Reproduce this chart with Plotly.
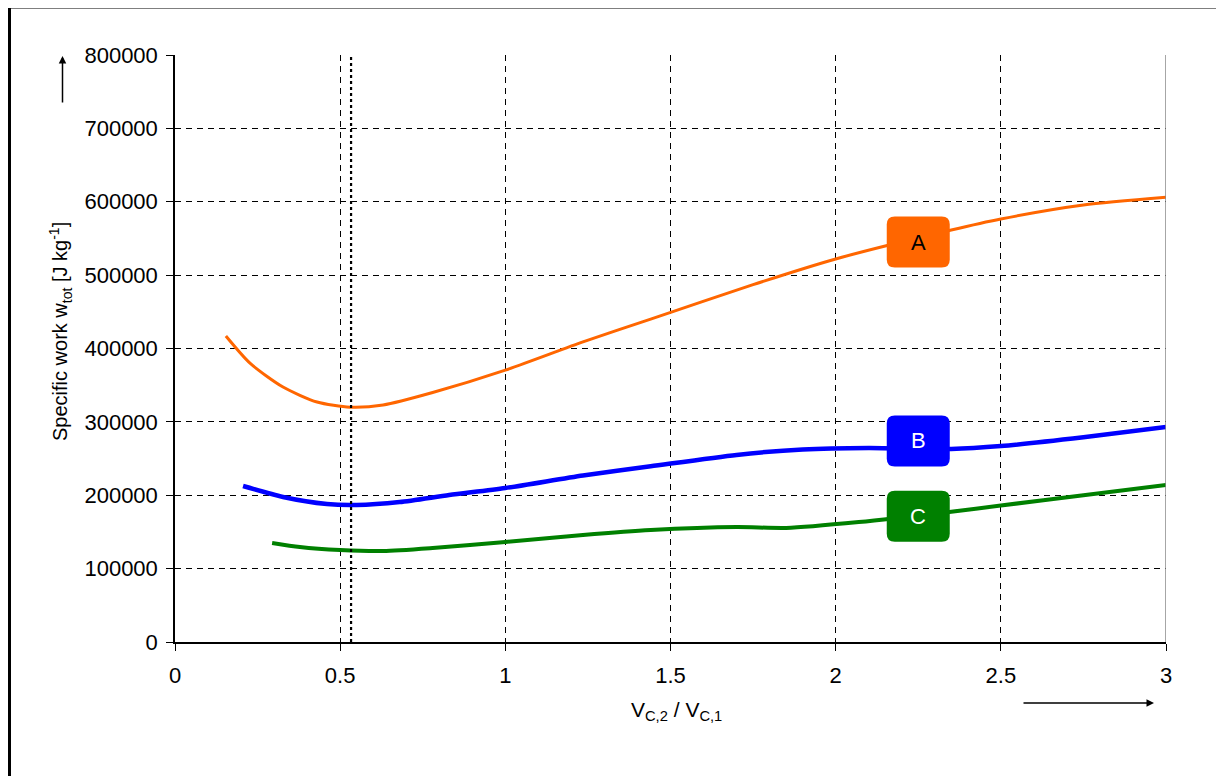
import plotly.graph_objects as go

# ---- data ----
a_x = [0.154, 0.227, 0.327, 0.43, 0.53, 0.63, 0.78, 1.0, 1.235, 1.44, 1.75, 2.0, 2.35, 2.5, 2.75, 3.0]
a_y = [417000, 380000, 347500, 327000, 320000, 323000, 340000, 370500, 409000, 440000, 487000, 522000, 561500, 576500, 595500, 606000]

b_x = [0.206, 0.327, 0.46, 0.55, 0.68, 0.83, 1.0, 1.235, 1.44, 1.7, 1.9, 2.1, 2.35, 2.5, 2.75, 3.0]
b_y = [212600, 197600, 188000, 186700, 190800, 200300, 209900, 227000, 239500, 255000, 262500, 264500, 263000, 267000, 279000, 293000]

c_x = [0.294, 0.378, 0.5, 0.63, 0.78, 1.0, 1.235, 1.44, 1.7, 1.85, 2.07, 2.35, 2.5, 2.75, 3.0]
c_y = [135000, 129500, 125400, 124000, 128100, 136300, 145800, 152600, 156700, 155500, 163500, 177600, 186000, 200000, 214000]

series_names = ["A", "B", "C"]
series_colors = ["#FF6600", "#0000FF", "#008000"]
series_widths = [3, 4.5, 4]
label_x = [2.25, 2.25, 2.25]
label_y = [545000, 274000, 171500]
label_text_colors = ["black", "white", "white"]

optimum_x = 0.533

x_ticks = [0, 0.5, 1, 1.5, 2, 2.5, 3]
x_tick_text = ["0", "0.5", "1", "1.5", "2", "2.5", "3"]
y_ticks = [0, 100000, 200000, 300000, 400000, 500000, 600000, 700000, 800000]

FONT = "Liberation Sans, Arial, sans-serif"

# plot area geometry (page has 8px body margin)
PL, PT, PW, PH = 175, 55, 991, 587


def px(xp):
    return (xp - PL) / PW


def py(yp):
    return (PT + PH - yp) / PH


fig = go.Figure()
for xs, ys, name, col, w in zip([a_x, b_x, c_x], [a_y, b_y, c_y], series_names, series_colors, series_widths):
    fig.add_trace(go.Scatter(x=xs, y=ys, mode="lines", name=name,
                             line=dict(color=col, width=w, shape="spline", smoothing=0.7),
                             showlegend=False, hoverinfo="skip"))

# optimum dotted line
fig.add_shape(type="line", x0=optimum_x, x1=optimum_x, y0=0, y1=800000, xref="x", yref="y",
              line=dict(color="black", width=2.2, dash="dot"))

# right border of plot area
fig.add_shape(type="line", x0=3, x1=3, y0=0, y1=800000, xref="x", yref="y",
              line=dict(color="#888888", width=1.5))

# label boxes (rounded rectangles in pixel size anchored to data)
w, h, r = 63, 51, 8
hw, hh = w / 2, h / 2
path = (f"M {-hw + r},{-hh} L {hw - r},{-hh} Q {hw},{-hh} {hw},{-hh + r} "
        f"L {hw},{hh - r} Q {hw},{hh} {hw - r},{hh} L {-hw + r},{hh} "
        f"Q {-hw},{hh} {-hw},{hh - r} L {-hw},{-hh + r} Q {-hw},{-hh} {-hw + r},{-hh} Z")
for lx, ly, name, col, tcol in zip(label_x, label_y, series_names, series_colors, label_text_colors):
    fig.add_shape(type="path", xref="x", yref="y", xsizemode="pixel", ysizemode="pixel",
                  xanchor=lx, yanchor=ly, path=path, fillcolor=col, line=dict(width=0), layer="above")
    fig.add_annotation(x=lx, y=ly, xref="x", yref="y", text=name, showarrow=False,
                       xanchor="center", yanchor="middle",
                       font=dict(family=FONT, size=22, color=tcol))

# outer frame
fig.add_shape(type="rect", xref="paper", yref="paper",
              x0=px(9.5), x1=px(1240), y0=py(800), y1=py(7),
              line=dict(color="black", width=3))

# y-axis title
fig.add_annotation(xref="paper", yref="paper", x=px(60), y=py(332),
                   xanchor="center", yanchor="middle",
                   text="Specific work w<sub>tot</sub> [J kg<sup>-1</sup>]", textangle=-90,
                   showarrow=False, font=dict(family=FONT, size=20, color="black"))
# x-axis title
fig.add_annotation(xref="paper", yref="paper", x=px(676), y=py(711),
                   xanchor="center", yanchor="middle",
                   text="V<sub>C,2</sub> / V<sub>C,1</sub>",
                   showarrow=False, font=dict(family=FONT, size=21, color="black"))

# arrows
fig.add_annotation(xref="paper", yref="paper", x=px(62.5), y=py(56),
                   ax=0, ay=48, text="", showarrow=True, arrowhead=2, arrowsize=1,
                   arrowwidth=1.5, arrowcolor="black")
fig.add_annotation(xref="paper", yref="paper", x=px(1154), y=py(703),
                   ax=-132, ay=0, text="", showarrow=True, arrowhead=2, arrowsize=1,
                   arrowwidth=1.5, arrowcolor="black")

fig.update_layout(
    width=1216, height=768, autosize=False,
    margin=dict(l=PL - 8, r=1224 - 8 - (PL - 8) - PW, t=PT - 8, b=768 - (PT - 8) - PH),
    paper_bgcolor="white", plot_bgcolor="white",
    font=dict(family=FONT, size=22, color="black"),
    xaxis=dict(range=[0, 3], tickvals=x_ticks, ticktext=x_tick_text,
               showgrid=True, gridcolor="black", griddash="6px,5px", gridwidth=1,
               showline=True, linecolor="black", linewidth=1.5,
               ticks="outside", ticklen=7, tickcolor="black", tickwidth=1,
               ticklabelstandoff=6,
               zeroline=False, tickfont=dict(size=22, family=FONT)),
    yaxis=dict(range=[0, 800000], tickvals=y_ticks, tickformat="d",
               showgrid=True, gridcolor="black", griddash="6px,5px", gridwidth=1,
               showline=True, linecolor="black", linewidth=1.5,
               ticks="outside", ticklen=7, tickcolor="black", tickwidth=1,
               ticklabelstandoff=4,
               zeroline=False, tickfont=dict(size=22, family=FONT)),
)

fig.write_html("out.html")
